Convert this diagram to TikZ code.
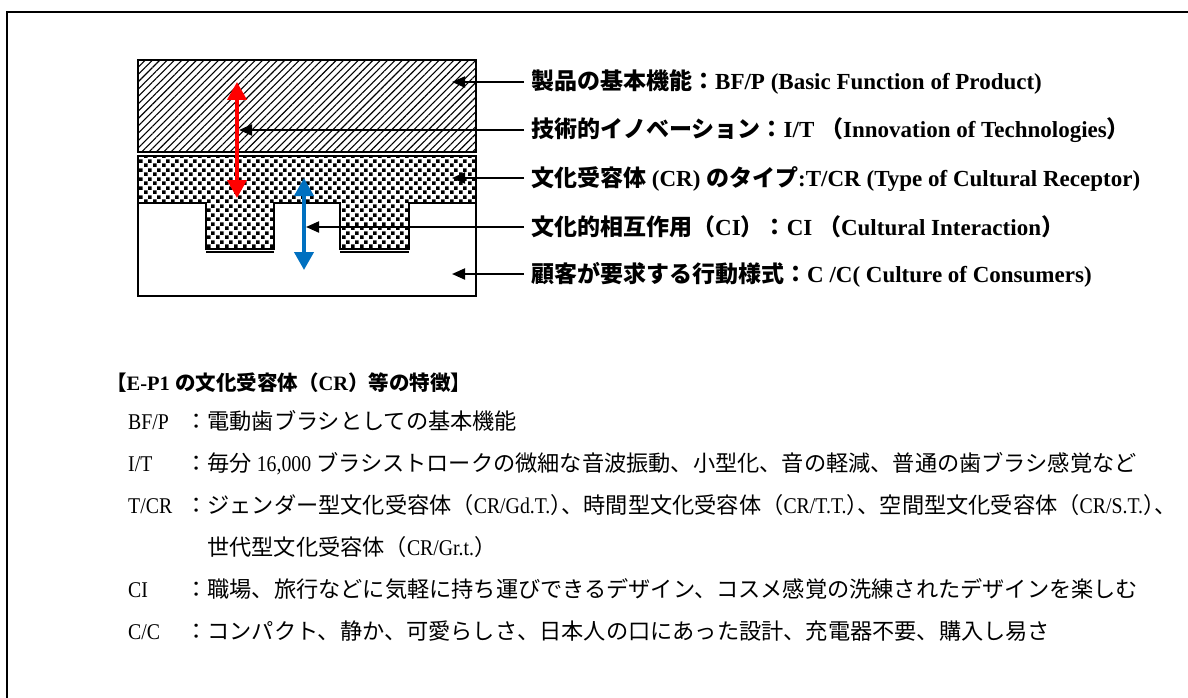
\documentclass[tikz,border=0pt]{standalone}
\usepackage{fontspec}
\setmainfont{Liberation Serif}
\newfontfamily\bodylat{Liberation Serif}[FakeStretch=0.88]
\newfontfamily\jp{Noto Sans CJK JP}
\usetikzlibrary{patterns,patterns.meta,arrows.meta}
\newcommand\J[1]{{\jp #1}}
\newcommand\Jb[1]{{\jp\fontsize{22.2}{26}\selectfont #1}}
\newcommand\cp{\hspace{-0.5em}}
\tikzdeclarepattern{name=sqdots, type=uncolored,
  bounding box={(0pt,0pt) and (9pt,9pt)}, tile size={(9pt,9pt)},
  code={\fill (0pt,0pt) rectangle (4pt,4pt); \fill (4.5pt,4.5pt) rectangle (8.5pt,8.5pt);}}
\tikzset{
  frame/.style={line width=2.4pt},
  box/.style={draw=black, line width=2.3pt},
  lab/.style={anchor=base west, inner sep=0pt, font=\bfseries\fontsize{23}{26}\selectfont},
  body/.style={anchor=base west, inner sep=0pt, font=\bodylat\fontsize{22.5}{26}\selectfont},
  head/.style={anchor=base west, inner sep=0pt, font=\bfseries\fontsize{20.5}{26}\selectfont},
  pointer/.style={line width=2pt, -{Triangle[length=13pt,width=11pt]}},
  redarr/.style={draw=red, line width=4pt, {Triangle[length=18pt,width=19pt]}-{Triangle[length=18pt,width=19pt]}},
  bluearr/.style={draw={rgb,255:red,0;green,112;blue,192}, line width=4pt, {Triangle[length=18pt,width=19pt]}-{Triangle[length=18pt,width=19pt]}}
}
\begin{document}
\begin{tikzpicture}[x=1pt,y=-1pt]
\useasboundingbox (0,0) rectangle (1188,698);
% outer frame (cropped on right and bottom)
\draw[frame] (7,706) -- (7,12) -- (1196,12);
% layers
\pattern[pattern={Lines[angle=45,distance=5.2pt,line width=1.1pt]}] (138,60) rectangle (476,152);
\draw[box] (138,60) rectangle (476,152);
\draw[box] (138,203) rectangle (476,296);
\fill[white] (138,156) -- (476,156) -- (476,203) -- (409,203) -- (409,249) -- (340,249) -- (340,203) -- (274,203) -- (274,249) -- (206,249) -- (206,203) -- (138,203) -- cycle;
\pattern[pattern=sqdots] (138,156) -- (476,156) -- (476,203) -- (409,203) -- (409,249) -- (340,249) -- (340,203) -- (274,203) -- (274,249) -- (206,249) -- (206,203) -- (138,203) -- cycle;
\draw[box] (138,156) -- (476,156) -- (476,203) -- (409,203) -- (409,249) -- (340,249) -- (340,203) -- (274,203) -- (274,249) -- (206,249) -- (206,203) -- (138,203) -- cycle;
\draw[line width=1.5pt] (206,252) -- (274,252) (340,252) -- (409,252);
% red and blue double arrows
\coordinate (rTop) at (237,82);
\coordinate (rBot) at (237,198);
\coordinate (bTop) at (304,178);
\coordinate (bBot) at (304,270);
\draw[redarr] (rTop) -- (rBot);
\draw[bluearr] (bTop) -- (bBot);
% pointer targets
\coordinate (t1) at (452,82);
\coordinate (t2) at (239,130);
\coordinate (t3) at (452,178);
\coordinate (t4) at (306,227);
\coordinate (t5) at (452,274);
% labels
\node[lab] (l1) at (531,90) {\J{製品の基本機能：}BF/P (Basic Function of Product)};
\node[lab] (l2) at (531,138) {\J{技術的イノベーション：}I/T \J{（}Innovation of Technologies\J{）}};
\node[lab] (l3) at (531,186) {\J{文化受容体} (CR) \J{のタイプ}:T/CR (Type of Cultural Receptor)};
\node[lab] (l4) at (531,235) {\J{文化的相互作用（}CI\J{）：}CI \J{（}Cultural Interaction\J{）}};
\node[lab] (l5) at (531,282) {\J{顧客が要求する行動様式：}C /C( Culture of Consumers)};
\foreach \i in {1,...,5} {\draw[pointer] ([xshift=-7pt]l\i.west |- t\i) -- (t\i);}
% body text
\node[head] (h) at (106,390) {\J{【}E-P1 \J{の文化受容体（}CR\J{）等の特徴】}};
\node[body] (k1) at (128,429) {BF/P};
\node[body] (k2) at (128,471) {I/T};
\node[body] (k3) at (128,513) {T/CR};
\node[body] (k4) at (128,597) {CI};
\node[body] (k5) at (128,639) {C/C};
\node[body] (v1) at (185,429) {\Jb{：電動歯ブラシとしての基本機能}};
\node[body] (v2) at (185,471) {\Jb{：毎分 }16,000 \Jb{ブラシストロークの微細な音波振動、小型化、音の軽減、普通の歯ブラシ感覚など}};
\node[body] (v3) at (185,513) {\Jb{：ジェンダー型文化受容体（}CR/Gd.T.\Jb{）\cp、時間型文化受容体（}CR/T.T.\Jb{）\cp、空間型文化受容体（}CR/S.T.\Jb{）\cp、}};
\node[body] (v3b) at (207,555) {\Jb{世代型文化受容体（}CR/Gr.t.\Jb{）}};
\node[body] (v4) at (185,597) {\Jb{：職場、旅行などに気軽に持ち運びできるデザイン、コスメ感覚の洗練されたデザインを楽しむ}};
\node[body] (v5) at (185,639) {\Jb{：コンパクト、静か、可愛らしさ、日本人の口にあった設計、充電器不要、購入し易さ}};
\end{tikzpicture}
\end{document}
